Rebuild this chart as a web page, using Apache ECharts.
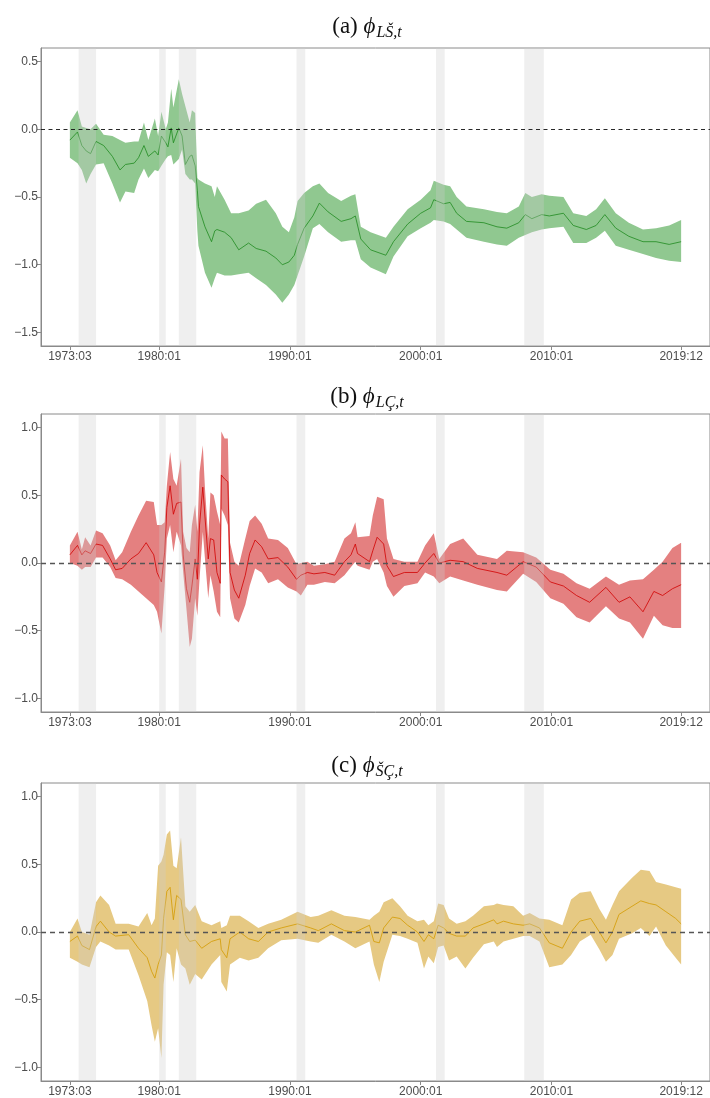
<!DOCTYPE html>
<html>
<head>
<meta charset="utf-8">
<script src="https://cdn.jsdelivr.net/npm/echarts@6/dist/echarts.min.js"></script>
<style>
  html, body { margin: 0; padding: 0; background: #ffffff; }
  #chart { width: 710px; height: 1098px; }
</style>
</head>
<body>
<div id="chart"></div>
<script>
// ---- x-axis tick labels and NBER recession periods ----
const tickLabels = ['1973:03', '1980:01', '1990:01', '2000:01', '2010:01', '2019:12'];
const recessionStart = ['1973:11', '1980:01', '1981:07', '1990:07', '2001:03', '2007:12'];
const recessionEnd   = ['1975:03', '1980:07', '1982:11', '1991:03', '2001:11', '2009:06'];

// ---- (a) phi_{LS,t}: posterior median and credible band ----
const datesA = ['1973:03','1973:10','1974:02','1974:06','1974:10','1975:03','1975:10','1976:06','1977:01','1977:06',
  '1978:02','1978:06','1978:11','1979:03','1979:09','1979:12','1980:03','1980:07','1980:09','1980:12',
  '1981:02','1981:07','1981:10','1982:01','1982:05','1982:07','1982:10','1982:12','1983:01','1983:07',
  '1984:01','1984:04','1984:06','1985:01','1985:07','1986:02','1986:11','1987:06','1988:03','1988:12',
  '1989:06','1989:12','1990:05','1990:08','1991:02','1991:10','1992:04','1992:12','1993:12','1994:09',
  '1995:01','1995:06','1996:03','1997:05','1997:12','1999:01','2000:01','2000:10','2001:01','2001:10',
  '2002:04','2002:10','2003:07','2004:11','2005:11','2006:08','2007:07','2008:01','2008:07','2009:04',
  '2009:11','2010:12','2011:09','2012:09','2013:06','2014:02','2014:12','2015:12','2017:01','2018:01',
  '2019:01','2019:12'];
const lowerA = [-0.21,-0.25,-0.30,-0.40,-0.33,-0.26,-0.25,-0.40,-0.54,-0.46,
  -0.47,-0.37,-0.29,-0.36,-0.30,-0.31,-0.27,-0.22,-0.20,-0.19,
  -0.26,-0.22,-0.15,-0.33,-0.37,-0.37,-0.40,-0.75,-0.86,-1.06,
  -1.17,-1.10,-1.06,-1.08,-1.08,-1.07,-1.06,-1.10,-1.15,-1.22,
  -1.28,-1.22,-1.15,-1.08,-0.94,-0.73,-0.70,-0.76,-0.83,-0.82,
  -0.82,-0.96,-1.02,-1.07,-0.94,-0.79,-0.73,-0.69,-0.67,-0.68,
  -0.70,-0.74,-0.80,-0.83,-0.85,-0.86,-0.80,-0.78,-0.76,-0.74,
  -0.73,-0.72,-0.84,-0.84,-0.80,-0.75,-0.86,-0.89,-0.92,-0.95,
  -0.97,-0.98];
const medianA = [-0.08,-0.02,-0.12,-0.16,-0.18,-0.09,-0.12,-0.20,-0.30,-0.26,
  -0.25,-0.21,-0.12,-0.20,-0.16,-0.19,-0.05,-0.10,-0.13,0.01,
  -0.10,0.01,-0.05,-0.26,-0.20,-0.19,-0.27,-0.45,-0.57,-0.72,
  -0.83,-0.75,-0.74,-0.76,-0.80,-0.89,-0.84,-0.88,-0.90,-0.95,
  -1.00,-0.98,-0.93,-0.85,-0.73,-0.64,-0.545,-0.61,-0.68,-0.66,
  -0.64,-0.81,-0.89,-0.93,-0.83,-0.70,-0.62,-0.58,-0.52,-0.55,
  -0.54,-0.62,-0.68,-0.69,-0.72,-0.73,-0.69,-0.63,-0.66,-0.63,
  -0.64,-0.62,-0.71,-0.74,-0.71,-0.63,-0.73,-0.79,-0.83,-0.83,
  -0.85,-0.83];
const upperA = [0.05,0.14,0.02,0.01,0.00,0.04,-0.04,-0.05,-0.08,-0.10,
  -0.09,-0.09,0.05,-0.08,0.08,-0.05,0.13,0.00,0.05,0.30,
  0.16,0.37,0.26,0.17,0.05,0.14,0.12,-0.36,-0.37,-0.40,
  -0.42,-0.50,-0.42,-0.52,-0.62,-0.62,-0.60,-0.55,-0.52,-0.62,
  -0.72,-0.76,-0.65,-0.53,-0.47,-0.42,-0.40,-0.47,-0.53,-0.49,
  -0.48,-0.72,-0.76,-0.80,-0.72,-0.59,-0.52,-0.45,-0.38,-0.41,
  -0.42,-0.50,-0.57,-0.59,-0.61,-0.62,-0.57,-0.47,-0.50,-0.48,
  -0.49,-0.50,-0.62,-0.64,-0.59,-0.51,-0.62,-0.69,-0.74,-0.73,
  -0.71,-0.67];

// ---- (b) phi_{LC,t} ----
const datesB = ['1973:03','1973:10','1974:02','1974:05','1974:10','1975:03','1975:09','1976:04','1976:09','1977:03',
  '1977:11','1978:06','1979:01','1979:08','1979:11','1980:03','1980:06','1980:08','1980:11','1981:02',
  '1981:05','1981:09','1981:11','1982:02','1982:05','1982:07','1982:10','1982:12','1983:02','1983:05',
  '1983:07','1983:10','1983:12','1984:03','1984:06','1984:09','1984:10','1985:01','1985:04','1985:06',
  '1985:10','1986:02','1986:08','1986:12','1987:05','1987:11','1988:05','1989:02','1989:11','1990:07',
  '1990:11','1991:05','1991:11','1992:09','1993:06','1994:03','1994:09','1995:01','1995:03','1996:02',
  '1996:05','1996:09','1997:03','1997:06','1997:12','1998:10','1999:10','2000:05','2001:01','2001:06',
  '2002:04','2003:04','2004:05','2005:11','2006:08','2007:11','2008:11','2009:12','2010:12','2011:12',
  '2012:12','2014:03','2015:03','2016:01','2017:01','2017:11','2018:07','2019:04','2019:12'];
const lowerB = [0.00,-0.02,-0.05,-0.03,-0.03,0.04,0.04,-0.03,-0.11,-0.12,
  -0.16,-0.21,-0.26,-0.31,-0.36,-0.52,-0.17,0.18,0.28,0.08,
  0.23,0.13,-0.07,-0.34,-0.62,-0.56,-0.26,-0.39,-0.12,0.23,
  0.03,-0.26,-0.09,-0.21,-0.36,-0.40,0.40,0.35,0.28,-0.26,
  -0.41,-0.44,-0.31,-0.17,-0.04,-0.07,-0.15,-0.12,-0.18,-0.21,
  -0.24,-0.16,-0.16,-0.14,-0.15,-0.09,-0.03,0.01,-0.02,-0.05,
  0.01,0.03,-0.07,-0.17,-0.25,-0.17,-0.15,-0.07,-0.10,-0.15,
  -0.10,-0.13,-0.16,-0.20,-0.21,-0.08,-0.14,-0.26,-0.30,-0.40,
  -0.44,-0.32,-0.41,-0.44,-0.56,-0.39,-0.46,-0.48,-0.48];
const medianB = [0.06,0.13,0.06,0.09,0.07,0.14,0.13,0.03,-0.05,-0.04,
  0.03,0.07,0.15,0.06,-0.07,-0.14,0.08,0.41,0.57,0.36,
  0.44,0.45,0.06,-0.19,-0.29,-0.17,0.03,-0.12,0.28,0.56,
  0.34,0.03,0.18,0.17,-0.07,-0.15,0.65,0.62,0.60,-0.07,
  -0.20,-0.26,-0.09,0.07,0.17,0.12,0.03,0.04,-0.03,-0.12,
  -0.09,-0.07,-0.08,-0.07,-0.09,0.01,0.06,0.14,0.07,0.01,
  0.09,0.19,0.14,-0.02,-0.10,-0.07,-0.07,0.00,0.07,0.00,
  0.02,0.01,-0.04,-0.07,-0.09,0.01,-0.03,-0.14,-0.17,-0.24,
  -0.29,-0.18,-0.29,-0.25,-0.36,-0.21,-0.24,-0.19,-0.16];
const upperB = [0.13,0.23,0.10,0.19,0.13,0.24,0.22,0.13,0.02,0.08,
  0.23,0.35,0.46,0.45,0.28,0.28,0.30,0.57,0.82,0.62,
  0.57,0.77,0.23,0.11,0.08,0.28,0.43,0.23,0.67,0.87,
  0.55,0.18,0.52,0.50,0.38,0.28,0.97,0.92,0.92,0.15,
  0.01,-0.02,0.18,0.31,0.35,0.29,0.18,0.17,0.11,-0.01,
  0.00,0.01,-0.02,-0.01,0.01,0.18,0.22,0.30,0.19,0.20,
  0.35,0.49,0.47,0.18,0.03,0.01,0.01,0.13,0.22,0.03,
  0.14,0.18,0.06,0.03,0.09,0.08,0.04,-0.05,-0.08,-0.15,
  -0.19,-0.10,-0.16,-0.13,-0.12,-0.05,0.01,0.11,0.15];

// ---- (c) phi_{SC,t} ----
const datesC = ['1973:03','1973:10','1974:02','1974:09','1975:03','1975:07','1976:03','1976:09','1977:09','1978:06',
  '1979:02','1979:06','1979:09','1979:12','1980:03','1980:05','1980:08','1980:11','1981:02','1981:05',
  '1981:09','1982:01','1982:05','1982:10','1983:04','1984:01','1984:09','1984:10','1985:03','1985:06',
  '1986:03','1986:11','1987:08','1988:05','1989:05','1990:08','1991:08','1992:03','1993:03','1994:03',
  '1995:01','1996:02','1996:06','1996:11','1997:03','1997:11','1998:06','1999:01','1999:10','2000:04',
  '2000:08','2001:01','2001:05','2001:10','2002:03','2002:10','2003:06','2004:01','2004:11','2005:08',
  '2005:11','2006:05','2007:02','2007:11','2008:05','2009:02','2009:11','2010:11','2011:07','2012:03',
  '2013:01','2013:09','2014:03','2014:09','2015:03','2016:03','2016:11','2017:07','2018:01','2018:10',
  '2019:07','2019:12'];
const lowerC = [-0.19,-0.22,-0.24,-0.26,-0.11,-0.07,-0.10,-0.13,-0.13,-0.32,
  -0.51,-0.69,-0.81,-0.71,-0.93,-0.39,-0.15,-0.17,-0.37,-0.12,
  -0.24,-0.27,-0.39,-0.31,-0.35,-0.24,-0.17,-0.37,-0.44,-0.24,
  -0.19,-0.21,-0.19,-0.12,-0.06,-0.05,-0.07,-0.08,-0.02,-0.07,
  -0.12,-0.07,-0.24,-0.37,-0.22,-0.02,-0.03,-0.05,-0.08,-0.27,
  -0.18,-0.23,-0.11,-0.10,-0.21,-0.18,-0.27,-0.19,-0.09,-0.07,
  -0.11,-0.07,-0.05,-0.03,-0.03,-0.07,-0.26,-0.24,-0.17,-0.07,
  -0.02,-0.13,-0.22,-0.17,-0.05,-0.01,0.03,-0.03,0.04,-0.10,
  -0.19,-0.24];
const medianC = [-0.07,-0.03,-0.10,-0.13,0.04,0.08,0.00,-0.03,-0.02,-0.12,
  -0.19,-0.29,-0.34,-0.24,-0.17,0.10,0.30,0.33,0.09,0.27,
  0.24,-0.02,-0.07,-0.06,-0.12,-0.07,-0.05,-0.13,-0.19,-0.05,
  0.00,-0.05,-0.07,0.00,0.03,0.06,0.03,0.01,0.06,0.01,
  0.00,0.05,-0.07,-0.08,0.03,0.11,0.10,0.05,0.00,-0.07,
  -0.02,-0.05,0.05,0.03,-0.01,-0.03,-0.03,0.03,0.06,0.09,
  0.06,0.08,0.06,0.05,0.06,0.03,-0.08,-0.12,0.00,0.08,
  0.10,0.00,-0.08,0.00,0.13,0.19,0.23,0.21,0.20,0.15,
  0.10,0.06];
const upperC = [0.00,0.10,0.00,-0.02,0.22,0.27,0.20,0.06,0.06,0.04,
  0.14,0.05,0.10,0.49,0.52,0.57,0.72,0.75,0.49,0.47,
  0.70,0.19,0.15,0.20,0.08,0.05,0.08,0.03,0.05,0.12,
  0.12,0.08,0.03,0.06,0.09,0.15,0.11,0.12,0.16,0.12,
  0.11,0.09,0.12,0.15,0.22,0.25,0.19,0.12,0.08,0.09,
  0.05,0.08,0.21,0.20,0.10,0.06,0.08,0.12,0.19,0.20,
  0.21,0.20,0.19,0.12,0.14,0.10,0.09,0.05,0.24,0.29,
  0.30,0.17,0.09,0.20,0.30,0.40,0.46,0.45,0.37,0.35,
  0.33,0.32];

// ---- helpers ----
function monthIndex(s) {
  const parts = s.split(':').map(Number);
  return (parts[0] - 1973) * 12 + (parts[1] - 3);
}
const tickValues = tickLabels.map(monthIndex);
const recessionRows = recessionStart.map((s, i) => [monthIndex(s), monthIndex(recessionEnd[i])]);
const fmtY = v => (v < 0 ? '\u2212' : '') + Math.abs(v).toFixed(1);

const panels = [
  { tag: '(a) ', sub: 'LŠ,t', dates: datesA, lower: lowerA, median: medianA, upper: upperA,
    fill: '#90c890', line: '#1f8a1f', yMin: -1.6, yMax: 0.6, yTicks: [-1.5, -1, -0.5, 0, 0.5],
    zero: { color: '#111111', width: 0.9, type: [4, 3.5] }, top: 48, titleTop: 3 },
  { tag: '(b) ', sub: 'LÇ,t', dates: datesB, lower: lowerB, median: medianB, upper: upperB,
    fill: '#e48080', line: '#d10000', yMin: -1.1, yMax: 1.1, yTicks: [-1, -0.5, 0, 0.5, 1],
    zero: { color: '#555555', width: 1.4, type: [5, 4] }, top: 414, titleTop: 373 },
  { tag: '(c) ', sub: 'ŠÇ,t', dates: datesC, lower: lowerC, median: medianC, upper: upperC,
    fill: '#e6c983', line: '#d39b00', yMin: -1.1, yMax: 1.1, yTicks: [-1, -0.5, 0, 0.5, 1],
    zero: { color: '#555555', width: 1.4, type: [5, 4] }, top: 783, titleTop: 742 }
];

const X_MIN = -26.5, X_MAX = 587.5;
const axisGray = '#8a8a8a';
const labelGray = '#4d4d4d';
const serif = 'Liberation Serif, serif';

const grid = [], xAxis = [], yAxis = [], series = [], title = [];

panels.forEach((p, i) => {
  grid.push({ left: 41, right: -5, top: p.top, height: 298, show: true,
    borderColor: axisGray, borderWidth: 1, backgroundColor: '#ffffff' });

  xAxis.push({
    type: 'value', gridIndex: i, min: X_MIN, max: X_MAX, position: 'bottom',
    axisLine: { show: true, onZero: false, lineStyle: { color: axisGray, width: 1 } },
    axisTick: { show: true, length: 4, customValues: tickValues, lineStyle: { color: axisGray } },
    axisLabel: { show: true, customValues: tickValues, margin: 5, color: labelGray, fontSize: 12,
      fontFamily: 'Liberation Sans, Arial, sans-serif',
      formatter: v => tickLabels[tickValues.indexOf(Math.round(v))] || '' },
    splitLine: { show: false }
  });

  yAxis.push({
    type: 'value', gridIndex: i, min: p.yMin, max: p.yMax, position: 'left',
    axisLine: { show: true, onZero: false, lineStyle: { color: axisGray, width: 1 } },
    axisTick: { show: true, length: 4, customValues: p.yTicks, lineStyle: { color: axisGray } },
    axisLabel: { show: true, customValues: p.yTicks, margin: 3, color: labelGray, fontSize: 12,
      fontFamily: 'Liberation Sans, Arial, sans-serif', formatter: fmtY },
    splitLine: { show: false }
  });

  const xs = p.dates.map(monthIndex);

  // credible band as one polygon: upper edge forward, lower edge back
  series.push({
    type: 'custom', xAxisIndex: i, yAxisIndex: i, z: 1, silent: true,
    data: xs.map((x, k) => [x, p.lower[k], p.upper[k]]),
    encode: { x: 0, y: [1, 2] },
    renderItem: (params, api) => {
      if (params.dataIndex !== 0) return null;
      const pts = [];
      for (let k = 0; k < xs.length; k++) pts.push(api.coord([xs[k], p.upper[k]]));
      for (let k = xs.length - 1; k >= 0; k--) pts.push(api.coord([xs[k], p.lower[k]]));
      return { type: 'polygon', shape: { points: pts }, style: { fill: p.fill } };
    }
  });

  // posterior median
  series.push({
    type: 'line', xAxisIndex: i, yAxisIndex: i, z: 2, silent: true,
    data: xs.map((x, k) => [x, p.median[k]]),
    showSymbol: false, symbol: 'none',
    lineStyle: { color: p.line, width: 0.8 }
  });

  // recession shading drawn over the band, plus the zero reference line
  series.push({
    type: 'custom', xAxisIndex: i, yAxisIndex: i, z: 3, silent: true,
    data: recessionRows,
    encode: { x: [0, 1] },
    renderItem: (params, api) => {
      const cs = params.coordSys;
      const x0 = api.coord([api.value(0), 0])[0];
      const x1 = api.coord([api.value(1), 0])[0];
      return { type: 'rect', shape: { x: x0, y: cs.y, width: x1 - x0, height: cs.height },
        style: { fill: 'rgba(205,205,205,0.32)' } };
    },
    markLine: { silent: true, symbol: 'none', label: { show: false },
      lineStyle: { color: p.zero.color, width: p.zero.width, type: p.zero.type },
      data: [{ yAxis: 0 }] }
  });

  title.push({
    text: '{m|' + p.tag + '}{p|\u03D5}{s|' + p.sub + '}',
    left: 362, top: p.titleTop, textAlign: 'center',
    textStyle: {
      fontWeight: 'normal',
      rich: {
        m: { fontFamily: serif, fontWeight: 'normal', fontSize: 23, color: '#111', lineHeight: 30, verticalAlign: 'bottom' },
        p: { fontFamily: serif, fontWeight: 'normal', fontStyle: 'italic', fontSize: 23, color: '#111', lineHeight: 30, verticalAlign: 'bottom' },
        s: { fontFamily: serif, fontWeight: 'normal', fontStyle: 'italic', fontSize: 16, color: '#111', lineHeight: 16, verticalAlign: 'bottom', padding: [0, 0, -3, 1] }
      }
    }
  });
});

const chart = echarts.init(document.getElementById('chart'), null, { renderer: 'canvas' });
chart.setOption({
  backgroundColor: '#ffffff',
  animation: false,
  title, grid, xAxis, yAxis, series
});
</script>
</body>
</html>
